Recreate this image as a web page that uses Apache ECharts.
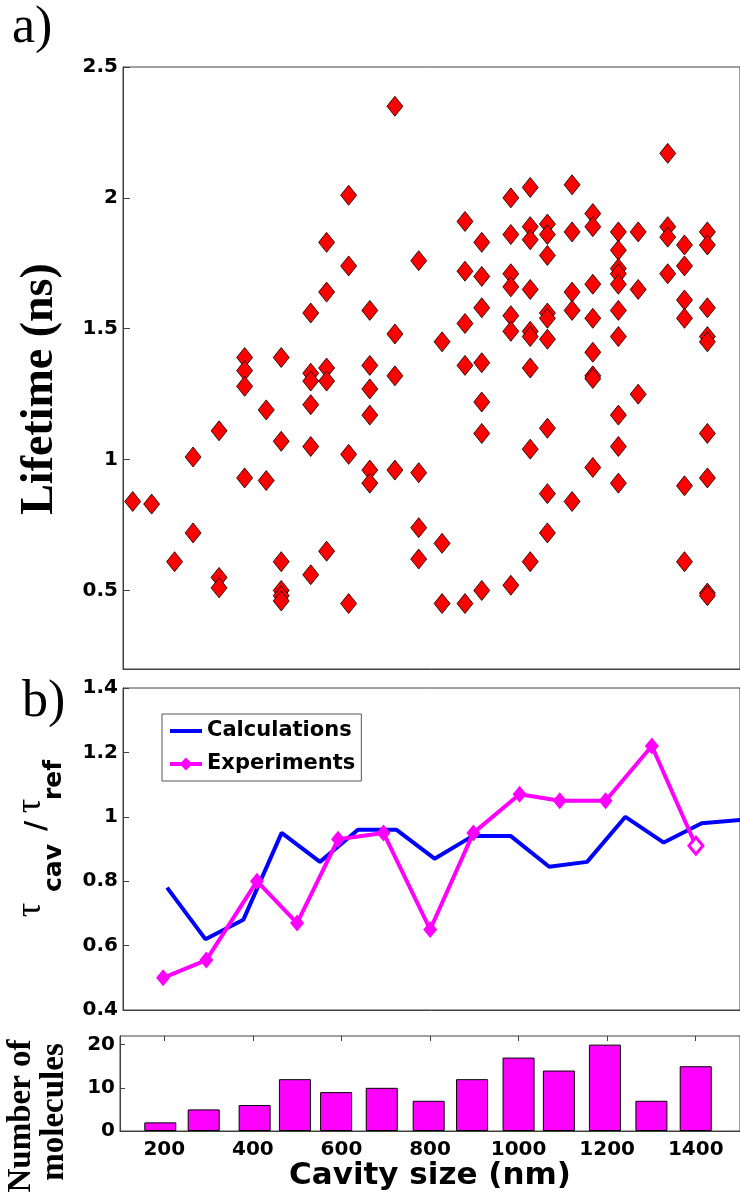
<!DOCTYPE html>
<html><head><meta charset="utf-8">
<script src="https://cdn.jsdelivr.net/npm/echarts@6/dist/echarts.min.js"></script>
<style>html,body{margin:0;padding:0;background:#fff}#c{width:740px;height:1201px}</style>
</head><body><div id="c"></div>
<script>
// ---- data ----
// a) lifetime of each molecule, grouped by cavity size column
const scatterSizes = [122, 165, 217, 259, 318, 376, 425, 459, 526, 562, 612, 660, 717, 771,
  824, 876, 914, 980, 1024, 1063, 1119, 1166, 1224, 1269, 1336, 1374, 1426];
const scatterLifetimes = [
  [0.84], [0.83], [0.61], [1.01, 0.72], [1.11, 0.55, 0.51],
  [1.39, 1.34, 1.28, 0.93], [1.19, 0.92], [1.39, 1.07, 0.61, 0.50, 0.48, 0.46],
  [1.56, 1.33, 1.30, 1.21, 1.05, 0.56], [1.83, 1.64, 1.35, 1.30, 0.65],
  [2.01, 1.74, 1.02, 0.45], [1.57, 1.36, 1.27, 1.17, 0.96, 0.91],
  [2.35, 1.48, 1.32, 0.96], [1.76, 0.95, 0.74, 0.62], [1.45, 0.68, 0.45],
  [1.91, 1.72, 1.52, 1.36, 0.45], [1.83, 1.70, 1.58, 1.37, 1.22, 1.10, 0.50],
  [2.00, 1.86, 1.71, 1.66, 1.55, 1.49, 0.52],
  [2.04, 1.89, 1.84, 1.65, 1.49, 1.47, 1.35, 1.04, 0.61],
  [1.90, 1.86, 1.78, 1.56, 1.54, 1.46, 1.12, 0.87, 0.72],
  [2.05, 1.87, 1.64, 1.57, 0.84], [1.94, 1.89, 1.67, 1.54, 1.41, 1.32, 1.31, 0.97],
  [1.87, 1.80, 1.73, 1.71, 1.67, 1.57, 1.47, 1.17, 1.05, 0.91],
  [1.87, 1.65, 1.25], [2.17, 1.89, 1.85, 1.71], [1.82, 1.74, 1.61, 1.54, 0.90, 0.61],
  [1.87, 1.82, 1.58, 1.47, 1.45, 1.10, 0.93, 0.49, 0.48]
];
// b) ratio tau_cav / tau_ref
const binSizes = [191, 289, 404, 495, 588, 691, 797, 895, 1000, 1091, 1195, 1300, 1400];
const expRatio = [0.50, 0.555, 0.80, 0.67, 0.93, 0.95, 0.65, 0.95, 1.07, 1.05, 1.05, 1.22, 0.91];
const calcSizes = [200, 287, 373, 460, 547, 633, 720, 807, 893, 980, 1067, 1153, 1240, 1327, 1413, 1500];
const calcRatio = [0.78, 0.62, 0.68, 0.95, 0.86, 0.96, 0.96, 0.87, 0.94, 0.94, 0.845, 0.86, 1.00, 0.92, 0.98, 0.99];
// c) number of molecules per bin
const moleculeCounts = [2, 5, 6, 12, 9, 10, 7, 12, 17, 14, 20, 7, 15];
// tick labels
const lifetimeTicks = [0.5, 1, 1.5, 2, 2.5];
const countTicks = [0, 10, 20];
const sizeTicks = [200, 400, 600, 800, 1000, 1200, 1400];

// ---- build ----
const scatterData = [];
scatterSizes.forEach((s, i) => scatterLifetimes[i].forEach(v => scatterData.push([s, v])));
const expData = binSizes.map((s, i) => {
  const d = { value: [s, expRatio[i]] };
  if (i === binSizes.length - 1) d.itemStyle = { color: '#ffffff', borderColor: '#ff00ff', borderWidth: 3 };
  return d;
});
const calcData = calcSizes.map((s, i) => [s, calcRatio[i]]);
const barData = binSizes.map((s, i) => [s, moleculeCounts[i]]);

const AX = '#404040';
const plain = v => String(v);
const tickFont = { fontFamily: 'DejaVu Sans', fontWeight: 'bold', fontSize: 20, color: '#000', formatter: plain };
const R = Math.PI / 2;

const chart = echarts.init(document.getElementById('c'), null, { renderer: 'canvas' });
chart.setOption({
  animation: false,
  backgroundColor: '#fff',
  grid: [
    { left: 123, top: 67, width: 624, height: 602, show: true, borderColor: AX, borderWidth: 1, backgroundColor: 'transparent' },
    { left: 123, top: 688, width: 624, height: 322, show: true, borderColor: AX, borderWidth: 1, backgroundColor: 'transparent' },
    { left: 120, top: 1036, width: 627, height: 95, show: true, borderColor: AX, borderWidth: 1, backgroundColor: 'transparent' }
  ],
  xAxis: [
    { gridIndex: 0, type: 'value', min: 100, max: 1500, axisLine: { show: true, lineStyle: { color: AX } },
      axisTick: { show: false }, axisLabel: { show: false }, splitLine: { show: false } },
    { gridIndex: 1, type: 'value', min: 100, max: 1500, axisLine: { show: true, lineStyle: { color: AX } },
      axisTick: { show: false }, axisLabel: { show: false }, splitLine: { show: false } },
    { gridIndex: 2, type: 'value', min: 100, max: 1500, axisLine: { show: true, lineStyle: { color: AX } },
      axisTick: { show: false },
      axisLabel: Object.assign({ customValues: sizeTicks, margin: 9 }, tickFont),
      splitLine: { show: false },
      name: 'Cavity size (nm)', nameLocation: 'middle', nameGap: 22,
      nameTextStyle: { fontFamily: 'DejaVu Sans', fontWeight: 'bold', fontSize: 31, color: '#000' } },
    { gridIndex: 2, type: 'value', position: 'top', min: 100, max: 1500, axisLine: { show: false },
      axisTick: { show: true, inside: true, length: 5, customValues: sizeTicks, lineStyle: { color: AX } },
      axisLabel: { show: false }, splitLine: { show: false } }
  ],
  yAxis: [
    { gridIndex: 0, type: 'value', min: 0.2, max: 2.5,
      axisLine: { show: true, lineStyle: { color: AX } },
      axisTick: { show: true, inside: true, length: 7, customValues: lifetimeTicks, lineStyle: { color: AX } },
      axisLabel: Object.assign({ customValues: lifetimeTicks, margin: 5 }, tickFont),
      splitLine: { show: false } },
    { gridIndex: 1, type: 'value', min: 0.4, max: 1.4, interval: 0.2,
      axisLine: { show: true, lineStyle: { color: AX } },
      axisTick: { show: true, inside: true, length: 6, lineStyle: { color: AX } },
      axisLabel: Object.assign({ margin: 5 }, tickFont, { formatter: v => String(+v.toFixed(1)) }),
      splitLine: { show: false } },
    { gridIndex: 2, type: 'value', min: 0, max: 22,
      axisLine: { show: true, lineStyle: { color: AX } },
      axisTick: { show: true, inside: true, length: 5, customValues: countTicks, lineStyle: { color: AX } },
      axisLabel: Object.assign({ customValues: countTicks, margin: 5 }, tickFont),
      splitLine: { show: false } }
  ],
  legend: {
    data: [
      { name: 'Calculations', icon: 'path://M0 0h0.05v0.05h-0.05z M0 6h32v4h-32z M31.95 15.95h0.05v0.05h-0.05z' },
      { name: 'Experiments' }
    ],
    orient: 'vertical', left: 162, top: 714,
    padding: [4, 6, 4, 6], itemWidth: 32, itemHeight: 16, itemGap: 7, selectedMode: false,
    lineStyle: { width: 4 },
    textStyle: { fontFamily: 'DejaVu Sans', fontWeight: 'bold', fontSize: 21, color: '#000', lineHeight: 26 },
    borderColor: '#555', borderWidth: 1, backgroundColor: '#fff'
  },
  series: [
    { type: 'scatter', xAxisIndex: 0, yAxisIndex: 0, data: scatterData, symbol: 'diamond',
      symbolSize: [16, 20], itemStyle: { color: '#ff0000', borderColor: '#000', borderWidth: 0.8, opacity: 1 } },
    { type: 'line', name: 'Calculations', xAxisIndex: 1, yAxisIndex: 1, data: calcData,
      symbol: 'none', color: '#0000ff', lineStyle: { color: '#0000ff', width: 4 } },
    { type: 'line', name: 'Experiments', xAxisIndex: 1, yAxisIndex: 1, data: expData,
      symbol: 'diamond', symbolSize: [14, 17], color: '#ff00ff',
      itemStyle: { color: '#ff00ff' }, lineStyle: { color: '#ff00ff', width: 4 } },
    { type: 'bar', xAxisIndex: 2, yAxisIndex: 2, data: barData, barWidth: 32,
      itemStyle: { color: '#ff00ff', borderColor: '#000', borderWidth: 1 } }
  ],
  graphic: [
    { type: 'text', left: 12, top: 2, style: { text: 'a)', font: '52px "Liberation Serif"', fill: '#000' } },
    { type: 'text', left: 22, top: 676, style: { text: 'b)', font: '52px "Liberation Serif"', fill: '#000' } },
    { type: 'text', x: 40, y: 389, rotation: R,
      style: { text: 'Lifetime (ns)', font: 'bold 46px "Liberation Serif"', fill: '#000', align: 'center', verticalAlign: 'middle' } },
    { type: 'text', x: 31, y: 910, rotation: R,
      style: { text: 'τ', font: '36px "Liberation Serif"', fill: '#000', align: 'center', verticalAlign: 'middle' } },
    { type: 'text', x: 54, y: 868, rotation: R,
      style: { text: 'cav', font: 'bold 25px "DejaVu Sans"', fill: '#000', align: 'center', verticalAlign: 'middle' } },
    { type: 'text', x: 38, y: 826, rotation: R,
      style: { text: '/', font: 'bold 28px "DejaVu Sans"', fill: '#000', align: 'center', verticalAlign: 'middle' } },
    { type: 'text', x: 31, y: 806, rotation: R,
      style: { text: 'τ', font: '36px "Liberation Serif"', fill: '#000', align: 'center', verticalAlign: 'middle' } },
    { type: 'text', x: 54, y: 780, rotation: R,
      style: { text: 'ref', font: 'bold 25px "DejaVu Sans"', fill: '#000', align: 'center', verticalAlign: 'middle' } },
    { type: 'text', x: 21, y: 1116, rotation: R,
      style: { text: 'Number of', font: 'bold 33px "Liberation Serif"', fill: '#000', align: 'center', verticalAlign: 'middle' } },
    { type: 'text', x: 54, y: 1112, rotation: R,
      style: { text: 'molecules', font: 'bold 33px "Liberation Serif"', fill: '#000', align: 'center', verticalAlign: 'middle' } }
  ]
});
</script>
</body></html>
